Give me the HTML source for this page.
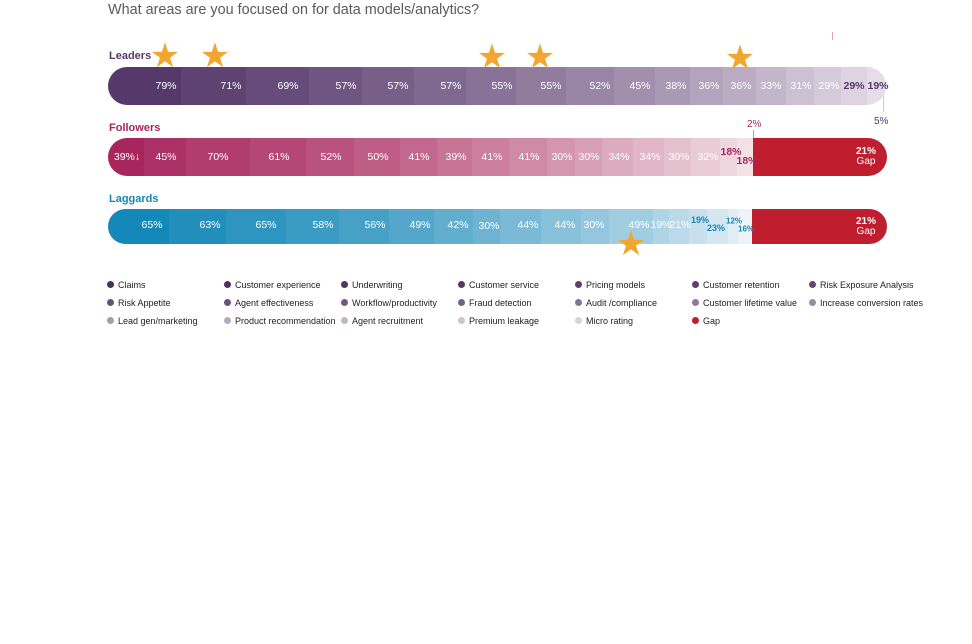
<!DOCTYPE html><html><head><style>
body{margin:0;width:972px;height:644px;background:#fff;position:relative;font-family:"Liberation Sans",sans-serif;overflow:hidden}
.a{position:absolute}
.seg{position:absolute}
.lb{position:absolute;color:#fff;font-size:10.5px;transform:translate(-50%,-50%);white-space:nowrap}
.lg{position:absolute;font-size:9px;color:#222;white-space:nowrap}
.lg i{display:inline-block;width:7px;height:7px;border-radius:50%;margin-right:4px;vertical-align:-0px}
.star{position:absolute;color:#f2a531;font-size:34px;line-height:34px;transform:translate(-50%,-50%)}
</style></head><body>
<div class="a" style="left:108px;top:2px;font-size:14.4px;color:#5a5a5a">What areas are you focused on for data models/analytics?</div>
<div class="a" style="left:109px;top:50px;font-size:11px;font-weight:bold;color:#56386b">Leaders</div>
<div class="a" style="left:109px;top:122px;font-size:11px;font-weight:bold;color:#a8265e">Followers</div>
<div class="a" style="left:109px;top:193px;font-size:11px;font-weight:bold;color:#1488b8">Laggards</div>
<div class="a" style="left:832px;top:32px;width:1px;height:8px;background:#e0a0b8"></div>
<div class="a" style="left:883px;top:95px;width:1px;height:17px;background:#d8c8d8"></div>
<div class="a" style="left:874px;top:116px;font-size:10px;color:#56386b">5%</div>
<div class="a" style="left:753px;top:130px;width:1px;height:10px;background:#d890a8"></div>
<div class="a" style="left:747px;top:119px;font-size:10px;color:#a8265e">2%</div>
<div id="c"></div>
<script>
function lerp(a,b,t){return a.map((v,i)=>Math.round(v+(b[i]-v)*t));}
function bar(b,y,h,c1,c2,end,gap){
 const c=document.getElementById('c');
 const n=b.length-1;
 for(let i=0;i<n;i++){
  const d=document.createElement('div');d.className='seg';
  const col=lerp(c1,c2,i/(n-1));
  let s=`left:${b[i]}px;top:${y}px;width:${b[i+1]-b[i]+(i<n-1?1:0)}px;height:${h}px;background:rgb(${col});`;
  if(i==0)s+=`border-radius:${h/2}px 0 0 ${h/2}px;`;
  if(i==n-1&&!gap)s+=`border-radius:0 ${h/2}px ${h/2}px 0;`;
  d.style.cssText=s;c.appendChild(d);
 }
 if(gap){const d=document.createElement('div');d.className='seg';
  d.style.cssText=`left:${b[n]}px;top:${y}px;width:${end-b[n]}px;height:${h}px;background:#be1e2d;border-radius:0 ${h/2}px ${h/2}px 0`;c.appendChild(d);
  const t=document.createElement('div');t.className='lb';t.style.cssText=`left:866px;top:${y+h/2}px;text-align:center;line-height:10px;font-size:10px`;t.innerHTML='<b>21%</b><br>Gap';c.appendChild(t);}
}
function labels(arr,y,extra){const c=document.getElementById('c');arr.forEach(a=>{const t=document.createElement('div');t.className='lb';t.textContent=a[0];t.style.cssText=`left:${a[1]}px;top:${a[2]||y}px;`+(a[3]||'');c.appendChild(t);});}
bar([108,181,246,309,362,414,466,516,566,614,655,690,723,756,786,814,841,867,886],67,38,[86,56,107],[229,221,232],886,false);
bar([108,144,186,250,306,354,400,437,472,509,547,575,602,633,664,691,720,737,753],138,38,[168,38,94],[242,226,230],887,true);
bar([108,169,226,286,339,389,434,473,500,541,581,609,653,669,689,707,728,738,752],209,35,[20,136,184],[238,243,248],887,true);
labels([["79%",166],["71%",231],["69%",288],["57%",346],["57%",398],["57%",451],["55%",502],["55%",551],["52%",600],["45%",640],["38%",676],["36%",709],["36%",741],["33%",771],["31%",801],["29%",829],["29%",854,0,"color:#56386b;font-weight:bold"],["19%",878,0,"color:#56386b;font-weight:bold"]],86);
labels([["39%↓",127],["45%",166],["70%",218],["61%",279],["52%",331],["50%",378],["41%",419],["39%",456],["41%",492],["41%",529],["30%",562],["30%",589],["34%",619],["34%",650],["30%",679],["32%",708],["18%",731,152,"color:#a8265e;font-weight:bold"],["18%",747,161,"color:#a8265e;font-weight:bold"]],157);
labels([["65%",152],["63%",210],["65%",266],["58%",323],["56%",375],["49%",420],["42%",458],["30%",489,226],["44%",528],["44%",565],["30%",594],["49%",639],["19%",661],["21%",680],["19%",700,220,"color:#1488b8;font-weight:bold;font-size:9px"],["23%",716,228,"color:#1488b8;font-weight:bold;font-size:9px"],["12%",734,221,"color:#1488b8;font-weight:bold;font-size:8px"],["16%",746,229,"color:#1488b8;font-weight:bold;font-size:8px"]],225);
[[165,56],[215,56],[492,57],[540,57],[740,58],[631,244]].forEach(p=>{const s=document.createElement('div');s.className='star';s.textContent='★';s.style.left=p[0]+'px';s.style.top=p[1]+'px';document.getElementById('c').appendChild(s);});
const L=[["Claims","#4a2f5c"],["Customer experience","#4e3361"],["Underwriting","#513564"],["Customer service","#553867"],["Pricing models","#5c3f6e"],["Customer retention","#603f70"],["Risk Exposure Analysis","#634672"],
["Risk Appetite","#6b4f7a"],["Agent effectiveness","#6e4f80"],["Workflow/productivity","#725784"],["Fraud detection","#7a5e8a"],["Audit /compliance","#8a7296"],["Customer lifetime value","#8d7a9a"],["Increase conversion rates","#9a8ba6"],
["Lead gen/marketing","#a79bb0"],["Product recommendation","#b3aabb"],["Agent recruitment","#c2b8c8"],["Premium leakage","#cdc4d2"],["Micro rating","#d9d2dc"],["Gap","#be1e2d"]];
const xs=[107,224,341,458,575,692,809];
L.forEach((l,i)=>{const d=document.createElement('div');d.className='lg';d.style.left=xs[i%7]+'px';d.style.top=(280+Math.floor(i/7)*18)+'px';d.innerHTML=`<i style="background:${l[1]}"></i>${l[0]}`;document.getElementById('c').appendChild(d);});
</script>
</body></html>
